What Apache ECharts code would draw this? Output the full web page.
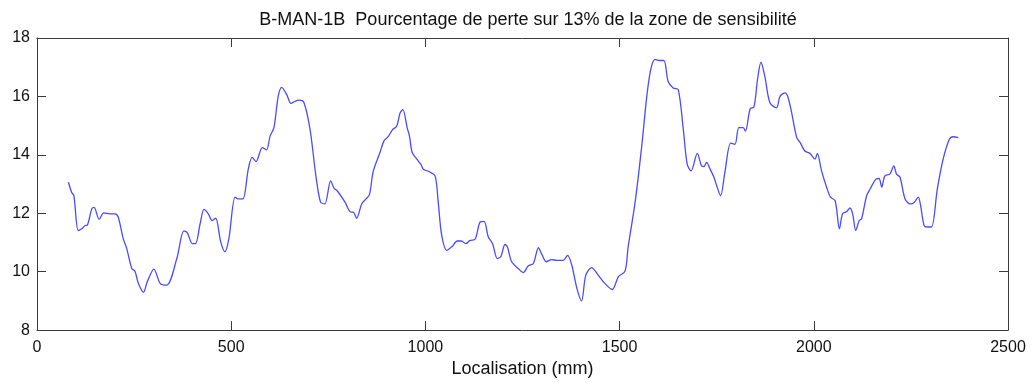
<!DOCTYPE html>
<html>
<head>
<meta charset="utf-8">
<script src="https://cdn.jsdelivr.net/npm/echarts@6/dist/echarts.min.js"></script>
<style>
  html, body { margin: 0; padding: 0; background: #fff; }
  #chart { width: 1034px; height: 383px; }
</style>
</head>
<body>
<div id="chart"></div>
<script>
// Loss profile along the specimen (position in mm, percentage)
const positions = [
  81, 89, 95, 106, 115, 124, 130, 141, 147, 160, 172, 188, 201, 209, 222, 231, 244, 252, 261, 274,
  284, 301, 317, 334, 360, 378, 387, 400, 408, 420, 430, 441, 451, 460, 473, 484, 494, 510, 518, 530,
  544, 554, 564, 580, 591, 600, 610, 621, 630, 643, 654, 664, 675, 687, 703, 718, 730, 741, 756, 765,
  773, 793, 808, 814, 823, 836, 847, 856, 866, 883, 893, 904, 916, 926, 935, 942, 953, 959, 966, 978,
  988, 995, 1010, 1025, 1033, 1042, 1055, 1068, 1082, 1093, 1104, 1115, 1128, 1141, 1151, 1162, 1173, 1185, 1194, 1205,
  1211, 1222, 1239, 1252, 1265, 1278, 1291, 1299, 1311, 1325, 1338, 1355, 1366, 1377, 1390, 1402, 1413, 1428, 1445, 1462,
  1481, 1497, 1514, 1522, 1540, 1557, 1570, 1580, 1591, 1602, 1614, 1625, 1638, 1651, 1664, 1674, 1684, 1700, 1711, 1717,
  1724, 1733, 1743, 1750, 1760, 1771, 1786, 1797, 1807, 1818, 1824, 1836, 1846, 1855, 1864, 1874, 1887, 1904, 1913, 1926,
  1932, 1941, 1956, 1965, 1977, 1990, 2003, 2009, 2020, 2033, 2043, 2055, 2066, 2074, 2085, 2093, 2100, 2108, 2117, 2123,
  2136, 2145, 2160, 2168, 2175, 2183, 2196, 2206, 2213, 2222, 2235, 2249, 2259, 2269, 2275, 2284, 2292, 2303, 2318, 2333,
  2349, 2359, 2372
];
const lossPercent = [
  13.06, 12.72, 12.60, 11.41, 11.47, 11.58, 11.60, 12.15, 12.20, 11.79, 12.01, 11.98, 11.98, 11.87, 11.13, 10.79, 10.11, 10.02, 9.60, 9.29,
  9.66, 10.09, 9.60, 9.54, 10.45, 11.40, 11.33, 10.96, 10.96, 11.64, 12.13, 11.98, 11.75, 11.83, 11.02, 10.68, 11.13, 12.55, 12.49, 12.49,
  13.51, 13.91, 13.77, 14.25, 14.17, 14.64, 14.93, 16.00, 16.31, 16.06, 15.76, 15.83, 15.87, 15.80, 14.87, 13.28, 12.38, 12.32, 13.11, 12.85,
  12.77, 12.38, 12.04, 12.04, 11.83, 12.32, 12.49, 12.64, 13.45, 14.08, 14.47, 14.62, 14.87, 14.98, 15.44, 15.55, 14.93, 14.64, 14.08, 13.85,
  13.68, 13.51, 13.42, 13.28, 12.38, 11.24, 10.73, 10.85, 11.05, 11.05, 10.96, 11.07, 11.11, 11.70, 11.72, 11.19, 10.96, 10.45, 10.51, 10.93,
  10.85, 10.34, 10.11, 9.97, 10.20, 10.28, 10.82, 10.62, 10.34, 10.41, 10.39, 10.39, 10.56, 10.22, 9.43, 9.00, 9.88, 10.14, 9.88, 9.60,
  9.39, 9.83, 10.02, 10.85, 12.38, 14.30, 16.00, 16.91, 17.27, 17.23, 17.23, 16.51, 16.29, 16.23, 14.87, 13.68, 13.45, 14.05, 13.62, 13.60,
  13.74, 13.51, 13.23, 12.94, 12.60, 13.40, 14.40, 14.36, 14.93, 14.93, 14.81, 15.57, 15.64, 16.57, 17.17, 16.68, 15.78, 15.61, 16.00, 16.12,
  16.03, 15.57, 14.59, 14.42, 14.13, 14.05, 13.85, 14.05, 13.45, 12.89, 12.55, 12.43, 11.47, 11.98, 12.06, 12.18, 11.98, 11.41, 11.75, 11.81,
  12.60, 12.83, 13.17, 13.19, 12.89, 13.28, 13.34, 13.62, 13.34, 13.23, 12.49, 12.32, 12.38, 12.55, 12.26, 11.58, 11.53, 11.53, 12.83, 13.85,
  14.53, 14.62, 14.59
];
const xTicks = [0, 500, 1000, 1500, 2000, 2500];
const yTicks = [8, 10, 12, 14, 16, 18];
const titleText = 'B-MAN-1B  Pourcentage de perte sur 13% de la zone de sensibilité';
const xName = 'Localisation (mm)';

const font = '"Liberation Sans", Arial, sans-serif';
const axisColor = '#3a3a3a';
const textColor = '#111';
const xMin = xTicks[0], xMax = xTicks[xTicks.length - 1];
const yMin = yTicks[0], yMax = yTicks[yTicks.length - 1];
const plain = (v) => String(v);

const boxAxis = (extra) => Object.assign({
  type: 'value',
  axisLine: { show: true, onZero: false, lineStyle: { color: axisColor, width: 1 } },
  axisTick: { show: true, inside: true, length: 9, lineStyle: { color: axisColor } },
  splitLine: { show: false },
  axisLabel: { show: false }
}, extra);

const chart = echarts.init(document.getElementById('chart'), null, { renderer: 'canvas' });
chart.setOption({
  animation: false,
  backgroundColor: '#fff',
  title: {
    text: titleText,
    left: 523, top: 6, textAlign: 'center',
    textStyle: { fontFamily: font, fontSize: 18, fontWeight: 'normal', color: textColor }
  },
  grid: { left: 37, right: 26, top: 38, bottom: 51, containLabel: false },
  xAxis: [
    boxAxis({
      min: xMin, max: xMax, interval: 500, position: 'bottom',
      name: xName, nameLocation: 'middle', nameGap: 29,
      nameTextStyle: { fontFamily: font, fontSize: 18, color: textColor },
      axisLabel: { show: true, color: textColor, fontFamily: font, fontSize: 16, margin: 9, formatter: plain }
    }),
    boxAxis({ min: xMin, max: xMax, interval: 500, position: 'top' })
  ],
  yAxis: [
    boxAxis({
      min: yMin, max: yMax, interval: 2, position: 'left',
      axisLabel: { show: true, color: textColor, fontFamily: font, fontSize: 16, margin: 7, formatter: plain }
    }),
    boxAxis({ min: yMin, max: yMax, interval: 2, position: 'right' })
  ],
  series: [{
    type: 'line',
    xAxisIndex: 0, yAxisIndex: 0,
    data: positions.map((p, i) => [p, lossPercent[i]]),
    showSymbol: false,
    smooth: 0.3,
    lineStyle: { color: '#4a4aff', width: 1.3 }
  }]
});
</script>
</body>
</html>
